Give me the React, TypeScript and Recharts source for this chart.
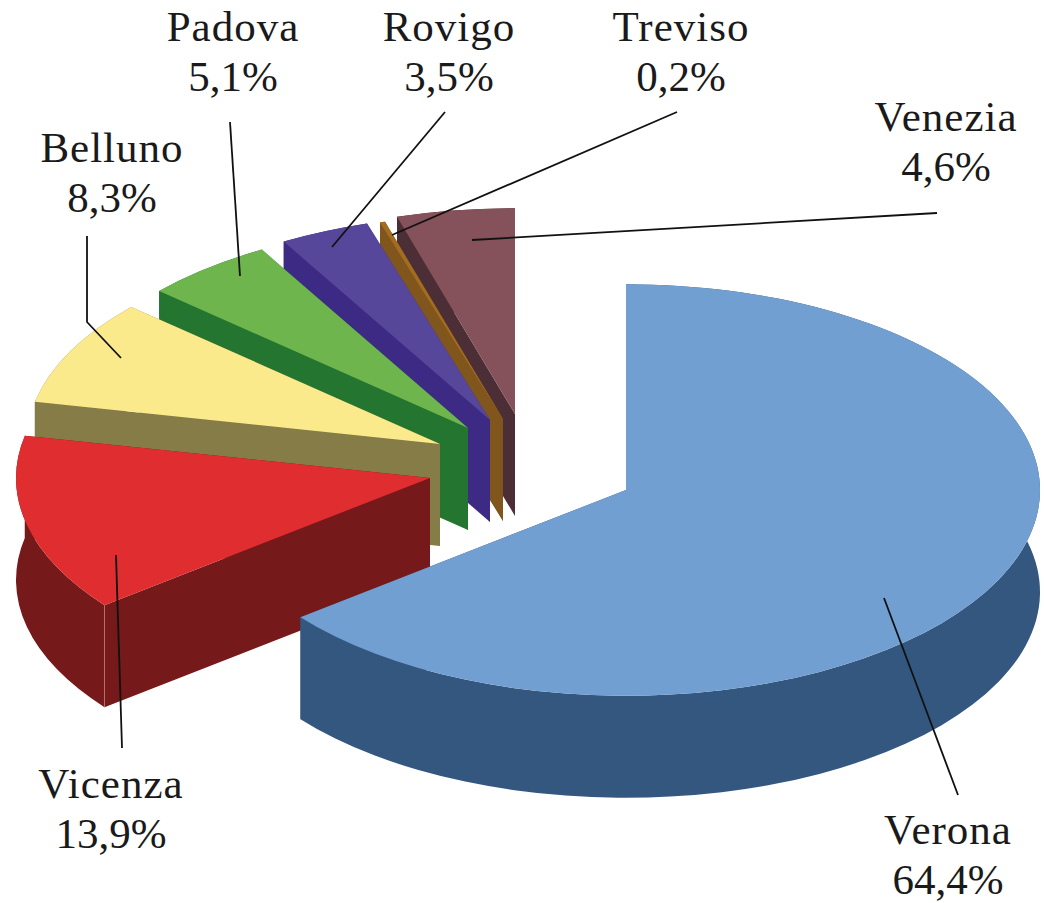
import { PieChart, Pie, Cell } from 'recharts'

// Provinces, listed back to front so the painter's order of the slices works out
const provinces = ['Venezia', 'Treviso', 'Rovigo', 'Padova', 'Belluno', 'Vicenza', 'Verona']
const shares = [4.6, 0.2, 3.5, 5.1, 8.3, 13.9, 64.4]

const topColors = ['#85515a', '#a36c1f', '#56479a', '#6fb54e', '#fbea8c', '#e02d2f', '#729fd2']
const sideColors = ['#4c2e36', '#80561c', '#3d2a85', '#24752f', '#857c47', '#75191a', '#34577f']
// how far every slice is pulled out of the pie, in px
const explodeX = [-111, -123, -136, -158, -186, -196, 0]
const explodeY = [-76, -71, -70, -62, -46, -12, 0]

const labelX = [946, 681, 449, 233, 112, 111, 948]
const labelY = [131, 41, 41, 41, 162, 798, 844]
const leaders = [
  '472,240 937,213',
  '392,235 677,112',
  '332,247 445,112',
  '240,276 230,122',
  '121,358 87,322 87,236',
  '116,555 122,748',
  '884,598 958,795',
]

const data = provinces.map((name, i) => ({ name, value: shares[i] }))

const SQUASH = 0.497
const DEPTH = 102

function Slice3D(props: any) {
  const { cx, cy, outerRadius, startAngle, endAngle, fill, name } = props
  const i = provinces.indexOf(name)
  const ox = cx + explodeX[i]
  const oy = cy + explodeY[i]
  const rx = outerRadius
  const ry = outerRadius * SQUASH
  const at = (deg: number) => {
    const a = (deg * Math.PI) / 180
    return [ox + rx * Math.cos(a), oy - ry * Math.sin(a)]
  }
  const [sx, sy] = at(startAngle)
  const [ex, ey] = at(endAngle)
  const large = endAngle - startAngle > 180 ? 1 : 0
  const top = `M${ox},${oy} L${sx},${sy} A${rx},${ry} 0 ${large} 0 ${ex},${ey} Z`
  const rim =
    `M${sx},${sy} A${rx},${ry} 0 ${large} 0 ${ex},${ey} ` +
    `L${ex},${ey + DEPTH} A${rx},${ry} 0 ${large} 1 ${sx},${sy + DEPTH} Z`
  const side = sideColors[i]
  return (
    <g>
      <path d={`M${ox},${oy} L${sx},${sy} L${sx},${sy + DEPTH} L${ox},${oy + DEPTH} Z`} fill={side} />
      <path d={`M${ox},${oy} L${ex},${ey} L${ex},${ey + DEPTH} L${ox},${oy + DEPTH} Z`} fill={side} />
      <path d={rim} fill={side} />
      <path d={top} fill={fill} />
      {name === 'Vicenza' && (
        <line x1={ex} y1={ey} x2={ex} y2={ey + DEPTH} stroke="#b9716f" strokeWidth={1} />
      )}
    </g>
  )
}

function SliceLabel(props: any) {
  const { name, value } = props
  const i = provinces.indexOf(name)
  const textStyle = { fontFamily: '"Liberation Serif", serif', fontSize: 43, fill: '#1a1a1a' }
  return (
    <g>
      <polyline points={leaders[i]} fill="none" stroke="#111" strokeWidth={1.8} />
      <text x={labelX[i]} y={labelY[i]} textAnchor="middle" style={{ ...textStyle, letterSpacing: 1 }}>
        {name}
      </text>
      <text x={labelX[i]} y={labelY[i] + 50} textAnchor="middle" style={textStyle}>
        {`${value.toFixed(1).replace('.', ',')}%`}
      </text>
    </g>
  )
}

export default function App() {
  return (
    <div style={{ position: 'absolute', left: 0, top: 0, width: 1044, height: 903, background: '#fff' }}>
      <PieChart width={1044} height={903} margin={{ top: 0, right: 0, bottom: 0, left: 0 }}>
        <Pie
          data={data}
          dataKey="value"
          nameKey="name"
          cx={626}
          cy={490}
          innerRadius={0}
          outerRadius={414}
          startAngle={90}
          endAngle={450}
          stroke="none"
          shape={Slice3D}
          label={SliceLabel}
          labelLine={false}
          isAnimationActive={false}
        >
          {data.map((entry, i) => (
            <Cell key={entry.name} fill={topColors[i]} />
          ))}
        </Pie>
      </PieChart>
    </div>
  )
}
